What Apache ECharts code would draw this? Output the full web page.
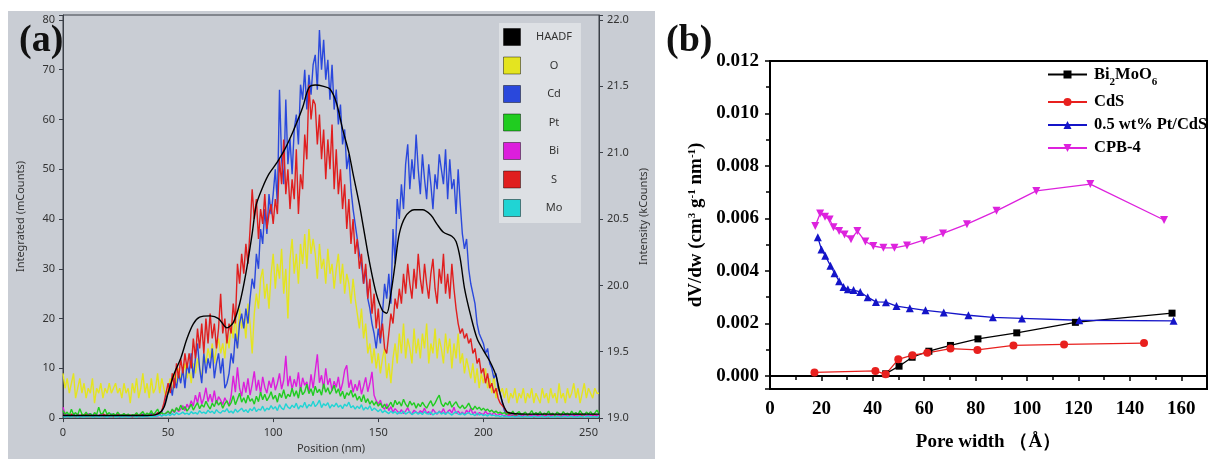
<!DOCTYPE html>
<html>
<head>
<meta charset="utf-8">
<script src="https://cdn.jsdelivr.net/npm/echarts@6/dist/echarts.min.js"></script>
<style>html,body{margin:0;padding:0;background:#fff;}#c{width:1210px;height:459px;}</style>
</head>
<body>
<div id="c"></div>
<script>
// ---------- Panel (a): EDS line scan, sampled every 1 nm (0..255 nm) ----------
const STEP_NM = 1;
const oCounts = [
9,6,8,5,7,9,4,6,8,5, 7,4,6,5,8,3,6,5,7,4, 6,5,7,5,6,7,5,6,4,7, 5,6,3,7,5,8,4,6,9,5,
7,4,8,5,6,9,5,8,6,4, 6,8,5,9,7,10,8,9,11,8, 10,7,11,9,12,10,8,13,11,14, 12,15,11,14,16,13,15,12,17,14,
19,16,21,14,22,18,20,16,23,19, 13,21,25,22,28,30,24,27,22,29, 33,26,31,28,34,25,30,20,32,36, 29,33,27,35,31,37,30,38,33,36,
33,28,35,30,32,27,34,29,31,26, 30,33,27,31,25,29,27,23,28,24, 21,18,22,16,19,13,15,11,14,10, 13,9,12,14,8,11,7,12,15,11,
17,13,19,12,16,14,11,18,13,16, 12,17,14,19,11,15,13,18,12,16, 14,11,17,13,16,10,15,12,17,11, 13,9,12,10,8,11,7,10,6,9,
7,10,6,8,5,9,4,7,5,6, 4,6,3,5,4,6,3,5,4,6, 3,5,4,6,3,5,4,3,6,4, 5,3,6,4,5,3,7,4,5,3,
6,4,5,7,4,6,3,5,7,4, 6,5,4,6,5,5];
const cdCounts = [
0.6,0.4,0.7,0.3,0.5,0.8,0.4,0.6,0.3,0.5, 0.7,0.4,0.6,0.9,0.5,0.3,0.6,0.4,0.7,0.5, 0.3,0.6,0.4,0.8,0.5,0.4,0.6,0.3,0.5,0.7, 0.4,0.6,0.5,0.3,0.7,0.4,0.6,0.5,0.8,0.4,
0.6,0.5,0.9,0.6,0.8,1.0,0.7,1.2,2.5,4, 5,7,4.5,8,6,9,7,10,6,11, 9,13,8,12,15,10,7,13,9,12, 10,14,8,11,13,9,12,6,7,9,
13,11,17,14,19,21,18,22,19,24, 28,26,33,30,38,35,42,37,45,41, 45,50,43,66,52,47,64,51,56,49, 58,61,55,67,64,70,62,69,65,71,
73,66,78,70,76,68,72,64,71,62, 66,59,63,55,58,50,53,46,42,39, 36,33,31,27,30,24,22,19,17,14, 18,15,21,27,24,29,23,38,31,44,
40,47,42,51,55,46,52,48,57,50, 45,53,48,44,51,47,42,49,46,53, 50,47,54,44,52,46,48,41,50,43, 37,34,36,30,27,25,23,19,17,16,
15,13,14,11,10,8,9,6,5,3, 1.5,0.8,0.5,0.4,0.6,0.3,0.5,0.4,0.6,0.3, 0.5,0.7,0.4,0.6,0.3,0.5,0.8,0.4,0.6,0.5, 0.3,0.6,0.4,0.7,0.5,0.4,0.6,0.3,0.5,0.7,
0.4,0.6,0.5,0.3,0.7,0.4,0.6,0.5,0.8,0.4, 0.6,0.5,0.7,0.4,0.6,0.5];
const sCounts = [
0.5,0.7,0.4,0.6,0.8,0.5,0.3,0.6,0.4,0.7, 0.5,0.8,0.4,0.6,0.3,0.7,0.5,0.4,0.6,0.9, 0.5,0.7,0.4,0.6,0.3,0.5,0.8,0.4,0.6,0.5, 0.7,0.4,0.6,0.3,0.5,0.7,0.4,0.8,0.5,0.6,
0.4,0.7,0.5,0.9,0.6,1.1,0.8,1.5,3,5, 7,5,9,6,11,8,12,9,13,10, 13,10,16,12,18,14,19,13,20,15, 21,16,19,14,18,25,17,20,15,19,
17,23,19,31,27,33,29,35,31,38, 46,40,44,36,42,39,45,38,41,43, 39,44,41,52,47,56,45,50,42,48, 44,54,41,49,46,57,52,67,60,64,
63,55,61,52,58,48,56,50,59,46, 54,45,50,42,47,38,44,35,40,33, 36,30,33,27,31,24,28,21,25,18, 22,16,19,14,13,17,21,19,24,22,
26,23,29,25,31,27,24,30,26,33, 28,25,31,27,24,29,32,26,23,30, 27,33,25,29,24,31,26,22,19,17, 18,16,17,15,16,13,14,11,12,9,
10,7,9,6,7,5,6,4,3,2.5, 2,1.2,0.8,0.6,0.5,0.7,0.4,0.6,0.3,0.5, 0.6,0.4,0.7,0.5,0.3,0.6,0.4,0.5,0.7,0.4, 0.6,0.3,0.5,0.7,0.4,0.6,0.5,0.3,0.6,0.4,
0.5,0.7,0.4,0.6,0.3,0.5,0.8,0.4,0.6,0.5, 0.4,0.6,0.5,0.7,0.4,0.6];
const ptCounts = [
1.5,0.8,1.2,0.5,1.8,0.7,1.1,0.6,1.9,0.8, 0.6,1.2,0.5,0.9,0.4,1.1,0.7,2.2,0.8,1.0, 1.8,0.7,1.1,0.6,0.9,0.5,1.2,0.7,0.6,0.9, 0.5,0.8,0.4,0.7,0.6,1.1,0.5,0.9,1.3,0.6,
1.0,0.7,1.5,0.6,1.2,1.8,0.8,1.1,0.7,1.0, 1.4,0.9,1.8,1.2,2.1,1.5,2.6,1.7,2.3,1.4, 2.0,2.8,1.6,2.4,3.1,1.9,2.7,2.2,3.4,2.5, 1.8,3.0,2.3,3.6,2.6,3.2,2.0,2.9,3.5,2.4,
3.1,4.5,2.7,3.8,5.0,3.2,4.1,3.0,4.6,3.4, 3.9,2.8,4.4,3.3,5.2,3.7,4.8,3.5,4.2,5.3, 3.8,4.6,3.2,5.0,4.1,5.7,3.9,4.8,4.3,6.0, 4.4,5.5,4.0,6.2,4.7,5.3,6.8,4.9,5.9,4.5,
6.4,5.1,5.8,4.6,6.9,5.2,6.1,4.8,5.6,6.6, 5.0,5.9,4.4,5.4,3.9,5.1,4.6,5.6,4.2,4.9, 3.6,4.4,3.3,4.7,3.1,3.9,2.8,3.5,2.6,3.3, 2.4,3.0,2.1,2.8,1.9,2.5,3.2,2.2,3.6,2.7,
3.3,2.4,3.8,2.8,2.2,3.4,2.6,3.1,2.0,2.9, 2.3,3.2,2.5,2.0,2.8,3.5,2.4,3.0,3.9,4.6, 2.9,2.3,3.1,2.6,3.4,2.2,2.8,3.3,2.4,2.0, 2.6,1.9,2.3,3.0,2.1,1.7,2.4,1.8,2.2,1.6,
2.0,1.5,1.8,1.3,1.6,1.1,1.4,1.0,1.2,0.9, 1.1,0.7,1.2,0.8,1.4,0.6,1.0,1.3,0.7,0.9, 1.2,0.6,0.9,1.5,0.7,1.1,0.8,1.3,0.6,1.0, 0.8,1.4,0.7,1.0,0.5,1.2,0.9,0.6,1.3,0.8,
1.0,0.6,1.4,0.8,1.1,0.7,1.5,0.9,0.6,1.2, 0.8,1.3,0.7,1.0,1.6,0.9];
const biCounts = [
2.2,0.8,0.5,0.7,0.4,0.6,0.3,0.8,0.5,0.4, 0.6,0.4,0.9,0.5,0.3,0.7,0.5,0.4,0.8,0.5, 0.4,0.6,0.3,0.5,0.7,0.4,0.6,0.3,0.5,0.4, 0.6,0.3,0.5,0.4,0.7,0.5,0.3,0.6,0.4,0.5,
0.3,0.6,0.4,0.7,0.5,0.4,0.6,0.5,0.8,1.0, 1.2,0.8,1.6,1.1,2.0,1.3,1.8,2.5,1.5,2.8, 2.0,3.5,2.4,4.6,3.0,5.2,2.8,4.0,6.1,3.3, 4.8,3.1,5.5,2.9,4.3,3.6,2.7,4.1,3.2,2.6,
4.5,8.5,5.2,10.2,6.0,4.4,7.3,5.1,8.0,4.6, 6.8,9.4,5.5,7.7,4.9,8.3,6.2,5.0,7.5,6.1, 8.2,5.6,7.0,9.0,5.8,7.6,12.5,6.4,8.5,5.7, 7.8,6.3,9.2,5.4,8.1,6.6,7.3,5.1,8.8,6.0,
9.5,12.8,7.1,8.6,5.9,10.0,6.7,8.0,5.5,7.4, 6.2,8.3,5.4,7.0,9.6,10.6,6.1,7.7,5.2,6.8, 5.5,7.6,4.8,6.4,8.2,5.3,7.0,9.3,4.6,3.5, 2.8,3.6,2.2,1.8,2.9,1.5,2.3,1.2,1.9,1.4,
1.0,1.7,0.9,1.4,2.1,1.1,0.8,1.6,1.2,0.9, 1.5,1.1,2.0,0.9,1.3,0.7,1.8,1.2,0.8,1.4, 1.0,1.9,0.8,1.3,1.7,1.0,2.2,0.9,1.4,0.8, 1.2,0.7,1.6,1.0,2.0,0.8,1.3,0.6,1.1,0.9,
0.7,1.4,0.8,1.0,0.6,1.2,0.7,0.5,0.9,0.6, 0.5,0.7,0.4,0.6,0.8,0.5,0.3,0.6,0.4,0.7, 0.5,0.3,0.6,0.4,0.7,0.5,0.3,0.6,0.4,0.5, 0.3,0.6,0.4,0.5,0.7,0.3,0.5,0.4,0.6,0.3,
0.5,0.4,0.7,0.3,0.5,0.6,0.4,0.3,0.6,0.5, 0.4,0.6,0.3,0.5,0.4,0.6];
const moCounts = [
0.3,0.2,0.4,0.3,0.2,0.5,0.3,0.2,0.4,0.3, 0.2,0.4,0.3,0.5,0.2,0.3,0.4,0.2,0.3,0.5, 0.3,0.2,0.4,0.3,0.5,0.2,0.3,0.4,0.2,0.3, 0.4,0.2,0.3,0.5,0.3,0.2,0.4,0.3,0.2,0.4,
0.3,0.5,0.2,0.4,0.3,0.5,0.6,0.4,0.7,0.5, 0.8,0.5,0.9,0.6,1.1,0.7,0.9,1.2,0.8,1.0, 0.7,1.3,0.9,1.1,0.8,1.5,1.0,1.2,0.9,1.6, 1.1,1.4,0.9,1.7,1.2,1.0,1.5,1.3,1.9,1.1,
1.4,1.0,1.8,1.2,1.6,2.0,1.3,1.7,1.1,1.9, 1.5,2.2,1.3,1.8,1.6,2.4,1.4,2.0,1.7,2.5, 1.8,2.3,1.5,2.7,2.0,1.7,2.9,2.2,1.9,2.6, 2.1,3.0,1.8,2.5,2.2,3.2,2.0,2.7,2.4,3.4,
2.3,2.8,3.6,2.1,2.9,2.5,3.1,2.0,2.7,2.3, 3.0,2.2,2.6,1.9,2.8,2.4,3.2,2.1,2.5,1.8, 2.4,1.9,2.7,1.6,2.2,1.8,2.5,1.5,2.0,1.7, 1.3,1.8,1.1,1.5,1.2,0.9,1.4,1.0,1.3,0.8,
1.2,0.9,1.4,0.8,1.1,1.3,0.7,1.0,1.2,0.8, 1.1,0.7,1.3,0.9,0.8,1.2,0.6,1.0,0.9,1.3, 0.8,1.1,0.7,1.2,0.9,0.6,1.0,1.3,0.8,0.7, 1.0,0.6,0.9,1.1,0.7,0.8,0.5,1.0,0.6,0.8,
0.5,0.7,0.4,0.8,0.5,0.6,0.4,0.5,0.3,0.5, 0.3,0.4,0.2,0.3,0.4,0.2,0.3,0.5,0.2,0.3, 0.4,0.2,0.3,0.2,0.4,0.3,0.2,0.3,0.4,0.2, 0.3,0.4,0.2,0.3,0.2,0.4,0.3,0.2,0.3,0.4,
0.2,0.3,0.4,0.2,0.3,0.2,0.4,0.3,0.2,0.3, 0.4,0.2,0.3,0.3,0.2,0.4];
// HAADF intensity (kCounts, right axis)
const haadfPos = [0,10,20,30,40,45,48,50,53,56,59,62,65,70,74,78,81,84,87,90,92,95,98,102,106,110,114,117,120,124,127,130,133,136,138,141,143,146,149,152,154,156,158,160,163,167,171,175,178,181,185,187,189,191,194,197,200,203,206,208,210,212,220,255];
const haadfKCounts = [19.02,19.02,19.02,19.02,19.02,19.03,19.08,19.19,19.34,19.45,19.60,19.71,19.76,19.77,19.75,19.68,19.72,19.86,20.09,20.39,20.61,20.74,20.84,20.93,21.04,21.18,21.34,21.49,21.51,21.50,21.48,21.38,21.18,21.00,20.84,20.61,20.43,20.16,19.94,19.81,19.79,19.94,20.16,20.39,20.52,20.57,20.57,20.53,20.46,20.40,20.37,20.33,20.20,19.98,19.77,19.60,19.51,19.43,19.32,19.18,19.08,19.04,19.03,19.03];
const legendA = ['HAADF','O','Cd','Pt','Bi','S','Mo'];

// ---------- Panel (b): pore size distribution ----------
const bmPore = [45,50.2,55.3,61.8,70.2,80.9,96,118.8,156.4];
const bmDv = [0.00008,0.00037,0.00071,0.00094,0.00116,0.00141,0.00164,0.00204,0.00239];
const cdsPore = [17.3,41,45,49.9,55.4,61.2,70.2,80.7,94.7,114.4,145.5];
const cdsDv = [0.00013,0.00019,0.00006,0.00063,0.00079,0.00088,0.00104,0.00099,0.00116,0.0012,0.00125];
const ptcdsPore = [18.6,20.0,21.5,23.5,25.1,26.9,28.6,30.3,32.5,35.1,38.0,41.2,45.1,49.2,54.4,60.5,67.6,77.2,86.7,98.0,120.3,157.0];
const ptcdsDv = [0.00528,0.00482,0.00458,0.0042,0.00391,0.00361,0.00339,0.0033,0.00327,0.0032,0.003,0.00282,0.00281,0.00266,0.00258,0.0025,0.00242,0.00231,0.00223,0.00219,0.00212,0.0021];
const cpbPore = [17.6,19.5,21.4,23.2,24.7,26.9,29.0,31.5,34.0,37.1,40.2,44.1,48.4,53.3,59.8,67.3,76.6,88.1,103.6,124.6,153.3];
const cpbDv = [0.00571,0.00619,0.00606,0.00596,0.00566,0.00552,0.00539,0.00521,0.00552,0.00512,0.00495,0.00488,0.00488,0.00497,0.00517,0.00543,0.00578,0.00629,0.00705,0.00731,0.00594];
const legendB = ['Bi2MoO6','CdS','0.5 wt% Pt/CdS','CPB-4'];

const zipArr = (xs, ys) => ys.map((y, i) => [xs[i], y]);
const scan = ys => ys.map((y, i) => [i * STEP_NM, y]);

const GRAY = '#c9cdd4';
const AX = '#3a3f47';
const sansA = 'Noto Sans';
const serif = 'Liberation Serif';

const chart = echarts.init(document.getElementById('c'), null, {width: 1210, height: 459});
const lineA = (name, data, color) => ({
  name, type: 'line', xAxisIndex: 0, yAxisIndex: 0, data, symbol: 'none', showSymbol: false,
  lineStyle: {color, width: 1.4}, itemStyle: {color}, animation: false
});
const lineB = (name, data, color, symbol, size, rot) => ({
  name, type: 'line', xAxisIndex: 1, yAxisIndex: 2, data, symbol, symbolSize: size, symbolRotate: rot || 0,
  lineStyle: {color, width: 1.3}, itemStyle: {color}, animation: false
});
const legTxt = {fontFamily: serif, fontWeight: 'bold', fontSize: 16.5, color: '#000'};

chart.setOption({
  animation: false,
  backgroundColor: '#ffffff',
  graphic: {
    elements: [{type: 'rect', z: -100, silent: true, shape: {x: 8, y: 11, width: 647, height: 448}, style: {fill: GRAY}}]
  },
  title: [
    {text: '(a)', left: 19, top: 22, padding: 0, textStyle: {fontFamily: serif, fontWeight: 'bold', fontSize: 38, color: '#111'}},
    {text: '(b)', left: 666, top: 22, padding: 0, textStyle: {fontFamily: serif, fontWeight: 'bold', fontSize: 38, color: '#111'}}
  ],
  grid: [
    {left: 63, top: 15, width: 536, height: 405, show: true, backgroundColor: GRAY, borderColor: AX, borderWidth: 1},
    {left: 770, top: 61, width: 439, height: 328, show: true, borderColor: '#000', borderWidth: 2}
  ],
  legend: [
    {
      orient: 'vertical', left: 499, top: 23, padding: [5, 9, 6, 4], itemGap: 10.5, itemWidth: 17, itemHeight: 17,
      icon: 'rect', backgroundColor: '#dde0e4',
      data: legendA.map(n => ({name: n, itemStyle: {borderColor: 'rgba(0,0,0,0.45)', borderWidth: 1}})),
      formatter: n => '{c|' + n + '}',
      textStyle: {rich: {c: {width: 57, align: 'center', fontSize: 11, fontFamily: sansA, color: '#333'}}}
    },
    {
      orient: 'vertical', left: 1047, top: 66, padding: 0, itemGap: 6, itemWidth: 39, itemHeight: 10,
      data: legendB,
      formatter: n => n === 'Bi2MoO6' ? '{t|Bi}{sub|2}{u|MoO}{sub|6}' : '{t|' + n + '}',
      textStyle: Object.assign({}, legTxt, {
        rich: {
          t: Object.assign({}, legTxt, {padding: [0, 0, 0, 2]}),
          u: Object.assign({}, legTxt),
          sub: {fontFamily: serif, fontWeight: 'bold', fontSize: 11, color: '#000', padding: [15, 0, 0, 0]}
        }
      })
    }
  ],
  xAxis: [
    {
      gridIndex: 0, type: 'value', min: 0, max: 255, interval: 50,
      name: 'Position (nm)', nameLocation: 'middle', nameGap: 24,
      nameTextStyle: {fontFamily: sansA, fontSize: 11, color: '#333'},
      axisLine: {lineStyle: {color: AX, width: 1}}, axisTick: {length: 4, lineStyle: {color: AX}},
      axisLabel: {fontFamily: sansA, fontSize: 11, color: '#333', margin: 9, formatter: v => (v % 50 === 0 ? String(v) : '')},
      splitLine: {show: false}
    },
    {
      gridIndex: 1, type: 'value', min: 0, max: 170, interval: 20,
      name: 'Pore width （Å）', nameLocation: 'middle', nameGap: 44,
      nameTextStyle: {fontFamily: serif, fontWeight: 'bold', fontSize: 19, color: '#000'},
      axisLine: {lineStyle: {color: '#000', width: 2}}, axisTick: {length: 5, lineStyle: {color: '#000', width: 1.5}},
      minorTick: {show: true, splitNumber: 2, length: 4, lineStyle: {color: '#000', width: 1.5}},
      axisLabel: {fontFamily: serif, fontWeight: 'bold', fontSize: 19, color: '#000', margin: 11, formatter: v => (v % 20 === 0 ? String(v) : '')},
      splitLine: {show: false}, minorSplitLine: {show: false}
    }
  ],
  yAxis: [
    {
      gridIndex: 0, type: 'value', position: 'left', min: 0, max: 81, interval: 10,
      name: 'Integrated (mCounts)', nameLocation: 'middle', nameGap: 37,
      nameTextStyle: {fontFamily: sansA, fontSize: 11, color: '#333'},
      axisLine: {show: true, lineStyle: {color: AX, width: 1}}, axisTick: {show: true, length: 4, lineStyle: {color: AX}},
      axisLabel: {fontFamily: sansA, fontSize: 11, color: '#333', margin: 8, formatter: v => (v % 10 === 0 ? String(v) : '')},
      splitLine: {show: false}
    },
    {
      gridIndex: 0, type: 'value', position: 'right', min: 19, max: 22.0375, interval: 0.5,
      name: 'Intensity (kCounts)', nameLocation: 'middle', nameGap: 39,
      nameTextStyle: {fontFamily: sansA, fontSize: 11, color: '#333'},
      axisLine: {show: true, lineStyle: {color: AX, width: 1}}, axisTick: {show: true, length: 4, lineStyle: {color: AX}},
      axisLabel: {fontFamily: sansA, fontSize: 11, color: '#333', margin: 8,
        formatter: v => (Math.abs(v * 2 - Math.round(v * 2)) < 1e-6 ? v.toFixed(1) : '')},
      splitLine: {show: false}
    },
    {
      gridIndex: 1, type: 'value', min: -0.0005, max: 0.012, splitNumber: 6,
      name: 'dV/dw (cm{sup|3} g{sup|-1} nm{sup|-1})', nameLocation: 'middle', nameGap: 64,
      nameTextStyle: {fontFamily: serif, fontWeight: 'bold', fontSize: 19, color: '#000',
        rich: {sup: {fontFamily: serif, fontWeight: 'bold', fontSize: 11, color: '#000', verticalAlign: 'top', padding: [0, 0, 8, 0]}}},
      axisLine: {show: true, lineStyle: {color: '#000', width: 2}}, axisTick: {show: true, length: 5, lineStyle: {color: '#000', width: 1.5}},
      minorTick: {show: true, splitNumber: 2, length: 4, lineStyle: {color: '#000', width: 1.5}},
      axisLabel: {fontFamily: serif, fontWeight: 'bold', fontSize: 19, color: '#000', margin: 11,
        formatter: v => (v < -1e-9 ? '' : v.toFixed(3))},
      splitLine: {show: false}, minorSplitLine: {show: false}
    }
  ],
  series: [
    lineA('O', scan(oCounts), '#e4e420'),
    lineA('Cd', scan(cdCounts), '#2a48dc'),
    lineA('S', scan(sCounts), '#e01e1e'),
    lineA('Bi', scan(biCounts), '#dc1edc'),
    lineA('Pt', scan(ptCounts), '#20cc20'),
    lineA('Mo', scan(moCounts), '#20d4d4'),
    Object.assign(lineA('HAADF', zipArr(haadfPos, haadfKCounts), '#000000'), {yAxisIndex: 1, smooth: 0.3, z: 5}),
    lineB('Bi2MoO6', zipArr(bmPore, bmDv), '#000000', 'rect', 7),
    lineB('CdS', zipArr(cdsPore, cdsDv), '#e8201e', 'circle', 8),
    lineB('0.5 wt% Pt/CdS', zipArr(ptcdsPore, ptcdsDv), '#1414c8', 'triangle', 8),
    lineB('CPB-4', zipArr(cpbPore, cpbDv), '#dd22dd', 'triangle', 8, 180)
  ]
});
</script>
</body>
</html>
